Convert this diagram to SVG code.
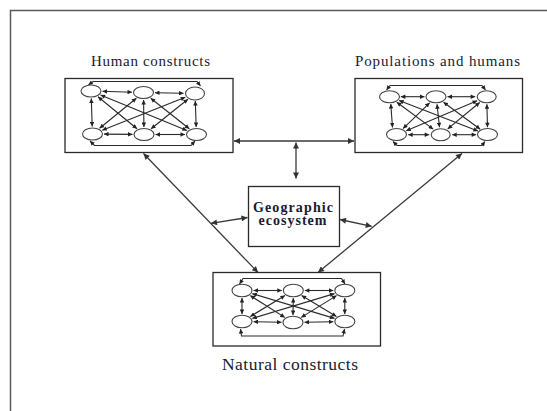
<svg xmlns="http://www.w3.org/2000/svg" width="547" height="411" viewBox="0 0 547 411">
<style>
.frame{fill:none;stroke:#5a5a5a;stroke-width:1.5}
.box{fill:#fff;stroke:#2a2a2a;stroke-width:1.3}
.nd{fill:#fff;stroke:#444;stroke-width:1.1}
.e{fill:none;stroke:#2a2a2a;stroke-width:1.1;marker-start:url(#sa);marker-end:url(#sa)}
.c{fill:none;stroke:#3a3a3a;stroke-width:1.3;marker-start:url(#la);marker-end:url(#la)}
.t{font-family:"Liberation Serif","Times New Roman",serif;fill:#1a1a30}
.b{font-weight:bold}
</style>
<defs>
<marker id="sa" viewBox="0 0 6 6" refX="6" refY="3" markerWidth="5" markerHeight="4.5" markerUnits="userSpaceOnUse" orient="auto-start-reverse"><path d="M0,0L6,3L0,6z" fill="#222"/></marker>
<marker id="la" viewBox="0 0 6 6" refX="6" refY="3" markerWidth="7" markerHeight="6" markerUnits="userSpaceOnUse" orient="auto-start-reverse"><path d="M0,0L6,3L0,6z" fill="#333"/></marker>
</defs>
<rect width="547" height="411" fill="#fff"/>
<path class="frame" d="M10.5,411V10.5H547"/>

<g id="connectors">
<line class="c" x1="234" y1="141" x2="354" y2="141"/>
<line class="c" x1="296" y1="142.5" x2="296" y2="178.5"/>
<line class="c" x1="143.5" y1="153.5" x2="258" y2="272.5"/>
<line class="c" x1="462" y1="153.5" x2="318" y2="272.5"/>
<line class="c" x1="211" y1="223.3" x2="247.5" y2="217.5"/>
<line class="c" x1="340" y1="219.5" x2="371.7" y2="226.3"/>
</g>

<g id="human-constructs">
<text class="t" x="150.5" y="66" font-size="15" text-anchor="middle" textLength="119" lengthAdjust="spacing">Human constructs</text>
<rect class="box" x="65" y="78.5" width="168" height="74"/>
<g class="edges">
<polyline class="e" points="88.5,85 93,81.5 197,81.5 200.5,86"/>
<polyline class="e" points="90,141 94.5,145.5 191,145.5 195,141"/>
<line class="e" x1="102.5" y1="91.3" x2="132" y2="92.2"/>
<line class="e" x1="155" y1="92.7" x2="183.5" y2="93.3"/>
<line class="e" x1="104" y1="134.1" x2="132.5" y2="134.4"/>
<line class="e" x1="155.5" y1="134.5" x2="185" y2="134.5"/>
<line class="e" x1="91.3" y1="98.5" x2="92.2" y2="126.5"/>
<line class="e" x1="195.3" y1="101" x2="196.2" y2="127"/>
<line class="e" x1="143.6" y1="100" x2="143.9" y2="127"/>
<line class="e" x1="98" y1="96.8" x2="137" y2="128.7"/>
<line class="e" x1="100.6" y1="95" x2="186.9" y2="130.5"/>
<line class="e" x1="136.4" y1="98.2" x2="99.6" y2="128.3"/>
<line class="e" x1="150.7" y1="98.2" x2="189.3" y2="128.8"/>
<line class="e" x1="185.3" y1="97.35" x2="102.2" y2="130.15"/>
<line class="e" x1="187.9" y1="99.2" x2="151.1" y2="128.8"/>
</g>
<ellipse class="nd" cx="91" cy="91" rx="10" ry="6"/>
<ellipse class="nd" cx="143.5" cy="92.5" rx="10" ry="6"/>
<ellipse class="nd" cx="195" cy="93.5" rx="9.5" ry="6.5"/>
<ellipse class="nd" cx="92.5" cy="134" rx="10" ry="6"/>
<ellipse class="nd" cx="144" cy="134.5" rx="10" ry="6"/>
<ellipse class="nd" cx="196.5" cy="134.5" rx="10" ry="6"/>
</g>

<g id="populations-and-humans">
<text class="t" x="437.5" y="66" font-size="15" text-anchor="middle" textLength="165" lengthAdjust="spacing">Populations and humans</text>
<rect class="box" x="355" y="78.5" width="167.5" height="74"/>
<g class="edges">
<polyline class="e" points="386.5,90 390,85.5 482,85.5 485.5,90"/>
<polyline class="e" points="393,141.5 397,145.5 482,145.5 485,141.5"/>
<line class="e" x1="400.8" y1="96.7" x2="424.5" y2="96.7"/>
<line class="e" x1="447.5" y1="96.7" x2="475.2" y2="96.7"/>
<line class="e" x1="408.2" y1="134.7" x2="429.2" y2="134.7"/>
<line class="e" x1="452.2" y1="134.7" x2="476.2" y2="134.7"/>
<line class="e" x1="390.8" y1="104" x2="392.5" y2="127.5"/>
<line class="e" x1="486.9" y1="104.2" x2="487.5" y2="127.2"/>
<line class="e" x1="437" y1="104.2" x2="439.5" y2="127.2"/>
<line class="e" x1="396.8" y1="102.25" x2="433.2" y2="129.15"/>
<line class="e" x1="399.05" y1="100.46" x2="477.95" y2="130.94"/>
<line class="e" x1="429.64" y1="102.84" x2="403.06" y2="128.56"/>
<line class="e" x1="443.5" y1="102.2" x2="480.2" y2="129.2"/>
<line class="e" x1="477.14" y1="100.74" x2="406.26" y2="130.66"/>
<line class="e" x1="479.7" y1="102.5" x2="447.7" y2="128.9"/>
</g>
<ellipse class="nd" cx="389.5" cy="96.7" rx="10" ry="6"/>
<ellipse class="nd" cx="436" cy="96.7" rx="10" ry="6"/>
<ellipse class="nd" cx="486.7" cy="96.7" rx="9.5" ry="6"/>
<ellipse class="nd" cx="396.5" cy="134.5" rx="10" ry="6"/>
<ellipse class="nd" cx="440.7" cy="134.7" rx="9.5" ry="6"/>
<ellipse class="nd" cx="487.5" cy="134.5" rx="10" ry="6"/>
</g>

<g id="geographic-ecosystem">
<rect class="box" x="248.5" y="186.5" width="91" height="60"/>
<text class="t b" x="293" y="211.5" font-size="14" text-anchor="middle" textLength="80" lengthAdjust="spacing">Geographic</text>
<text class="t b" x="292.5" y="225" font-size="14" text-anchor="middle" textLength="68" lengthAdjust="spacing">ecosystem</text>
</g>

<g id="natural-constructs">
<rect class="box" x="213" y="272.5" width="167.5" height="73.5"/>
<g class="edges">
<polyline class="e" points="239.5,284 243,278.5 341.5,278.5 345,284"/>
<polyline class="e" points="240.5,329 241.5,336 343,336 344.5,329"/>
<line class="e" x1="253.5" y1="290.5" x2="281.8" y2="290.5"/>
<line class="e" x1="304.8" y1="290.5" x2="333.3" y2="290.5"/>
<line class="e" x1="253.5" y1="321.7" x2="281.5" y2="322.3"/>
<line class="e" x1="304.5" y1="322.3" x2="333.3" y2="321.7"/>
<line class="e" x1="242" y1="298" x2="242" y2="314"/>
<line class="e" x1="344.8" y1="298" x2="344.8" y2="314"/>
<line class="e" x1="293.3" y1="298" x2="293" y2="315"/>
<line class="e" x1="250.2" y1="295.6" x2="284.8" y2="317.4"/>
<line class="e" x1="252.36" y1="293.63" x2="334.44" y2="318.37"/>
<line class="e" x1="284.98" y1="295.53" x2="250.32" y2="316.47"/>
<line class="e" x1="301.63" y1="295.52" x2="336.47" y2="316.48"/>
<line class="e" x1="334.44" y1="293.63" x2="252.36" y2="318.37"/>
<line class="e" x1="336.6" y1="295.6" x2="301.2" y2="317.4"/>
</g>
<ellipse class="nd" cx="242" cy="290.5" rx="10" ry="6.3"/>
<ellipse class="nd" cx="293.3" cy="290.5" rx="10" ry="6.3"/>
<ellipse class="nd" cx="344.8" cy="290.5" rx="10" ry="6.3"/>
<ellipse class="nd" cx="242" cy="321.5" rx="10" ry="6.3"/>
<ellipse class="nd" cx="293" cy="322.5" rx="10" ry="6.3"/>
<ellipse class="nd" cx="344.8" cy="321.5" rx="10" ry="6.3"/>
<text class="t" x="290" y="369.5" font-size="17.5" text-anchor="middle" textLength="136" lengthAdjust="spacing">Natural constructs</text>
</g>
</svg>
